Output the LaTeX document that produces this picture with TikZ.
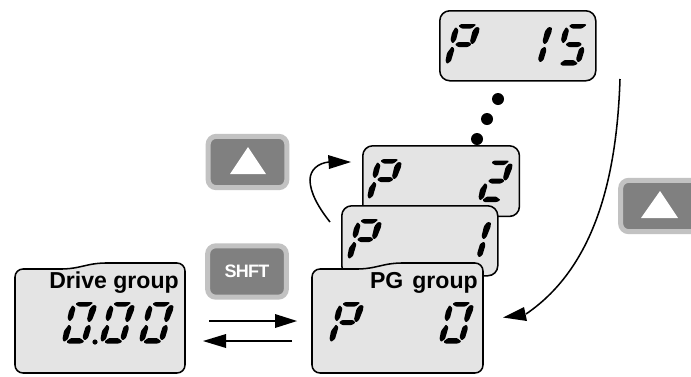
\documentclass[tikz,border=0pt]{standalone}
\usepackage{fontspec}
\setmainfont{Liberation Sans}
\usetikzlibrary{arrows.meta}
\tikzset{
  x=0.75pt,y=-0.75pt,
  panel/.style={draw=black,line width=1.15pt,fill=panelgray},
  boxnode/.style={panel,rounded corners=7.5pt,inner sep=0pt,anchor=north west},
  btn/.style={draw=btnedge,fill=btnfill,line width=3.75pt,rounded corners=6pt,inner sep=0pt,minimum width=59pt,minimum height=38.5pt},
  tri/.style={fill=white},
  seg/.style={fill=black,rounded corners=0.7pt},
  conn/.style={draw=black,line width=1.15pt},
  head/.style={fill=black},
  dot/.style={circle,fill=black,inner sep=0pt,minimum size=9pt},
  grouplabel/.style={inner sep=0pt,font=\fontsize{17.3}{19}\selectfont\bfseries,text=black},
  shfttext/.style={inner sep=0pt,text=white,font=\fontsize{13.5}{15}\selectfont\bfseries\addfontfeature{LetterSpace=-4}}
}
\definecolor{panelgray}{gray}{0.895}
\definecolor{btnfill}{gray}{0.5}
\definecolor{btnedge}{gray}{0.76}
\newcommand{\sA}{\fill[seg] (12.5,2)--(15,0)--(29,0)--(30,1)--(25.5,4.5)--(15.5,4.5)--cycle;}
\newcommand{\sB}{\fill[seg] (30,3)--(33.5,3.5)--(33,8)--(29,18)--(26,20.5)--(24,17.5)--(26.5,7)--cycle;}
\newcommand{\sC}{\fill[seg] (26.5,22.5)--(28,26)--(25,36)--(21.5,38.5)--(19.5,35)--(22.5,25)--cycle;}
\newcommand{\sD}{\fill[seg] (8,36)--(17,36)--(21.5,39.5)--(18,41.5)--(5,41.5)--(3.5,39.5)--cycle;}
\newcommand{\sE}{\fill[seg] (6,22.5)--(8.5,25)--(5,37)--(1,40)--(-0.5,37)--(1,29)--cycle;}
\newcommand{\sF}{\fill[seg] (9.5,3)--(12.5,6)--(10,16)--(6.5,19.5)--(4.5,16)--(6,9)--cycle;}
\newcommand{\sG}{\fill[seg] (12,18)--(23,18)--(25.5,20.5)--(22,23)--(12,23)--(9,20.5)--cycle;}
\newcommand{\digitP}[2]{\begin{scope}[shift={(#1,#2)}]\sA\sB\sE\sF\sG\end{scope}}
\newcommand{\digitZero}[2]{\begin{scope}[shift={(#1,#2)}]\sA\sB\sC\sD\sE\sF\end{scope}}
\newcommand{\digitOne}[2]{\begin{scope}[shift={(#1,#2)}]\sB\sC\end{scope}}
\newcommand{\digitTwo}[2]{\begin{scope}[shift={(#1,#2)}]\sA\sB\sD\sE\sG\end{scope}}
\newcommand{\digitFive}[2]{\begin{scope}[shift={(#1,#2)}]\sA\sC\sD\sF\sG\end{scope}}
\begin{document}
\begin{tikzpicture}
\useasboundingbox (0,0) rectangle (691,376);
\clip (0,0) rectangle (691,376);
% P 15
\node[boxnode,minimum width=117pt,minimum height=52.5pt] (p15) at (439,10) {};
\digitP{446}{24}\digitOne{518.5}{24}\digitFive{556.5}{24}
% dots
\node[dot] (d1) at (498,99) {};
\node[dot] (d2) at (487,119) {};
\node[dot] (d3) at (477,139) {};
% P 2
\node[boxnode,minimum width=117.5pt,minimum height=53pt] (p2) at (362,145) {};
\digitP{368}{159}\digitTwo{479}{160.5}
% P 1
\node[boxnode,minimum width=117pt,minimum height=52.5pt] (p1) at (341,205) {};
\digitP{348}{219}\digitOne{457.5}{219}
% PG group panel
\draw[panel,rounded corners=6pt] (312,269)--(366,269)--(393,263)--(483,263)--(483,373)--(312,373)--cycle;
\coordinate (pgin) at (503,317.5);
\node[grouplabel,anchor=base east] (pglabel) at (478,288) {PG\hspace{2pt} group};
\digitP{330}{302}\digitZero{440}{302}
% Drive group panel
\draw[panel,rounded corners=6pt] (15,269)--(70,269)--(97,263)--(185,263)--(185,373)--(15,373)--cycle;
\node[grouplabel,anchor=base east] (drivelabel) at (179,288) {Drive group};
\digitZero{63}{302}\digitZero{101}{302}\digitZero{140}{302}
\fill (95,342) circle (2.6);
% Buttons
\node[btn] (upleft) at (247.5,162) {};
\fill[tri] (248,147)--(266,174)--(230,174)--cycle;
\node[btn] (upright) at (660,206) {};
\fill[tri] (660,191)--(678,218)--(641,218)--cycle;
\node[btn] (shift) at (247,271.5) {};
\node[shfttext] (shifttext) at (247,271.5) {SHFT};
% Straight arrows
\coordinate (a1s) at (209,321); \coordinate (a1b) at (275,321); \coordinate (a1t) at (297,321);
\draw[conn] (a1s)--(a1b);
\fill[head] (a1t)--(275,314)--(275,328)--cycle;
\coordinate (a2s) at (292,341); \coordinate (a2b) at (226,341); \coordinate (a2t) at (203,341);
\draw[conn] (a2s)--(a2b);
\fill[head] (a2t)--(226,334)--(226,348)--cycle;
% Curved arrow to P 2
\coordinate (c1s) at (330,222); \coordinate (c1b) at (329,162); \coordinate (c1t) at (351,162);
\draw[conn] (c1s) .. controls (318,207) and (310,192) .. (310,180) .. controls (310,170) and (318,163) .. (c1b);
\fill[head] (c1t)--(328,155)--(329,169)--cycle;
% Long curved arrow to P 0
\coordinate (c2s) at (620,79);
\coordinate (c2b) at (526,314);
\draw[conn] (c2s) .. controls (617,170) and (598,265) .. (c2b);
\fill[head] (pgin)--(524,307)--(527,321)--cycle;
\end{tikzpicture}
\end{document}
